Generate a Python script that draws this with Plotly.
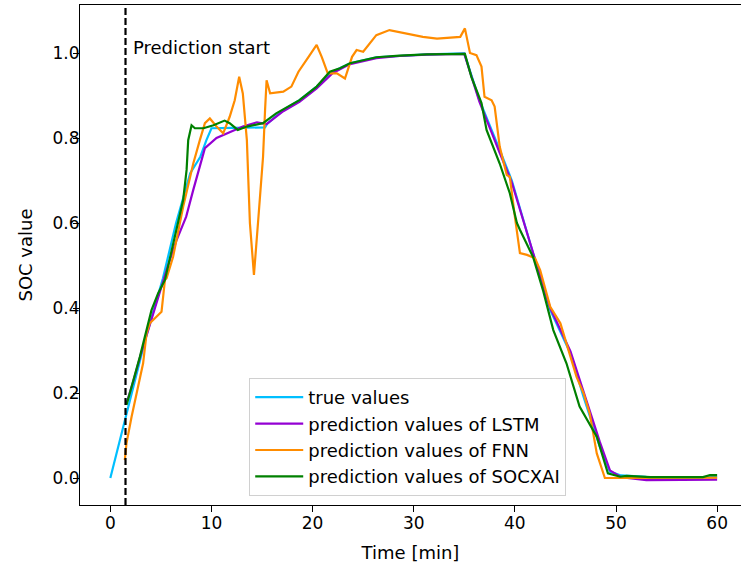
import plotly.graph_objects as go

# ---- data ----
t_true = [0, 1.5, 3.5, 5.2, 6.5, 7.9, 8.9, 9.5, 10.0, 12.0, 15.3, 15.5, 17.1, 18.7, 20.4, 22.0, 23.7,
          26.3, 28.6, 31.3, 35.0, 36.5, 38.5, 39.7, 41.8, 43.5, 45.5, 46.8, 48.4, 49.4, 50.5, 53, 56, 60]
y_true = [0, 0.14, 0.33, 0.47, 0.6, 0.717, 0.756, 0.795, 0.823, 0.824, 0.825, 0.833, 0.866, 0.889, 0.921,
          0.956, 0.976, 0.99, 0.994, 0.997, 0.999, 0.889, 0.772, 0.70, 0.529, 0.395, 0.293, 0.19, 0.074,
          0.015, 0.006, 0.003, 0.002, 0.002]

t_lstm = [1.6, 2.3, 3.0, 4.0, 4.9, 5.7, 6.55, 7.5, 8.2, 8.8, 9.35, 10.5, 11.5, 13.1, 14.5, 15.45, 17.1,
          18.7, 20.4, 22.0, 23.7, 26.3, 28.6, 31.3, 35.0, 36.5, 38.5, 39.7, 41.8, 43.5, 45.5, 46.8, 48.4,
          49.4, 50.5, 53, 56, 60]
y_lstm = [0.176, 0.23, 0.29, 0.37, 0.442, 0.5, 0.56, 0.615, 0.678, 0.73, 0.776, 0.8, 0.811, 0.827, 0.837,
          0.833, 0.863, 0.885, 0.917, 0.953, 0.974, 0.988, 0.993, 0.996, 0.998, 0.885, 0.765, 0.695, 0.53,
          0.40, 0.298, 0.2, 0.085, 0.018, 0.002, -0.005, -0.005, -0.004]

t_fnn = [1.43, 1.6, 2.1, 2.75, 3.24, 3.58, 3.9, 5.06, 5.4, 5.56, 6.2, 7.2, 8.2, 8.85, 9.35, 9.84, 10.5,
         11.16, 11.8, 12.3, 12.74, 13.1, 13.5, 13.8, 14.2, 14.6, 15.1, 15.3, 15.45, 15.8, 17.1, 17.9, 18.6,
         19.6, 20.4, 20.9, 21.5, 22.4, 23.2, 23.9, 24.35, 25.0, 25.7, 26.3, 27.6, 29.3, 30.9, 32.3, 34.6,
         35.06, 35.56, 36.2, 36.7, 37.0, 37.7, 38.0, 38.5, 39.2, 39.5, 40.0, 40.5, 41.2, 42.0, 42.5, 43.5,
         44.5, 45.5, 46.1, 46.8, 47.4, 48.1, 48.9, 50, 55, 60]
y_fnn = [0.042, 0.082, 0.144, 0.215, 0.27, 0.34, 0.364, 0.391, 0.466, 0.47, 0.52, 0.638, 0.74, 0.795,
         0.835, 0.846, 0.827, 0.811, 0.85, 0.889, 0.944, 0.905, 0.795, 0.6, 0.478, 0.6, 0.756, 0.866, 0.936,
         0.905, 0.909, 0.921, 0.956, 0.991, 1.019, 0.991, 0.952, 0.952, 0.94, 0.991, 1.007, 1.003, 1.023,
         1.042, 1.054, 1.046, 1.038, 1.034, 1.038, 1.058, 1.0, 0.995, 0.968, 0.897, 0.889, 0.874, 0.78,
         0.713, 0.709, 0.615, 0.529, 0.525, 0.517, 0.489, 0.403, 0.364, 0.285, 0.238, 0.199, 0.152, 0.058,
         0.0, 0.0, 0.0, 0.001]

t_xai = [1.6, 2.92, 4.07, 4.73, 5.4, 6.55, 7.2, 7.54, 7.7, 8.03, 8.36, 9.2, 10.2, 11.3, 11.8, 12.6, 13.5,
         15.1, 16.4, 18.7, 20.4, 21.7, 22.7, 23.7, 26.3, 28.6, 31.3, 35.06, 35.7, 36.7, 37.2, 38.5, 39.5,
         40.2, 40.5, 41.8, 42.8, 43.8, 45.1, 46.4, 48.1, 49.2, 50.4, 51.06, 53.4, 58.6, 59.3, 60]
y_xai = [0.172, 0.285, 0.395, 0.435, 0.466, 0.59, 0.654, 0.725, 0.795, 0.83, 0.823, 0.823, 0.83, 0.841,
         0.835, 0.819, 0.827, 0.835, 0.858, 0.889, 0.921, 0.956, 0.964, 0.976, 0.99, 0.994, 0.997, 0.998,
         0.944, 0.882, 0.819, 0.74, 0.67, 0.6, 0.584, 0.52, 0.44, 0.348, 0.27, 0.168, 0.097, 0.011, 0.003,
         0.005, 0.002, 0.002, 0.007, 0.007]

prediction_start = 1.5
x_ticks = [0, 10, 20, 30, 40, 50, 60]
y_ticks = [0.0, 0.2, 0.4, 0.6, 0.8, 1.0]

series = [
    ("true values", t_true, y_true, "#00bfff"),
    ("prediction values of LSTM", t_lstm, y_lstm, "#9400d3"),
    ("prediction values of FNN", t_fnn, y_fnn, "#ff8c00"),
    ("prediction values of SOCXAI", t_xai, y_xai, "#008000"),
]

FONT = "DejaVu Sans"
fig = go.Figure()
for i, (name, xs, ys, col) in enumerate(series):
    fig.add_trace(go.Scatter(x=xs, y=ys, mode="lines", name=name, legendgroup=f"g{i}",
                             line=dict(color=col, width=2.2)))

fig.add_shape(type="line", xref="x", yref="paper", x0=prediction_start, x1=prediction_start,
              y0=0, y1=1, line=dict(color="black", width=2.2, dash="7px,3px"))
fig.add_annotation(x=2.0, y=1.014, xref="x", yref="y", text="Prediction start", showarrow=False,
                   xanchor="left", yanchor="middle", font=dict(family=FONT, size=18, color="black"))

fig.update_layout(
    width=741, height=563,
    margin=dict(l=80, r=0, t=5, b=58, autoexpand=False),
    plot_bgcolor="white", paper_bgcolor="white",
    font=dict(family=FONT, size=17, color="black"),
    showlegend=True,
    legend=dict(x=0.256, y=0.254, xanchor="left", yanchor="top", bgcolor="rgba(255,255,255,0.8)",
                bordercolor="#d0d0d0", borderwidth=1, font=dict(family=FONT, size=18),
                traceorder="grouped", tracegroupgap=0, itemwidth=48),
)
fig.update_xaxes(range=[-3, 62.36], tickvals=x_ticks, ticks="outside", ticklen=6, tickwidth=1.2,
                 tickcolor="black", showline=True, linecolor="black", linewidth=1.2, mirror=True,
                 showgrid=False, zeroline=False, automargin=False, ticklabelstandoff=-4,
                 title=dict(text="Time [min]", font=dict(family=FONT, size=18)))
fig.update_yaxes(range=[-0.0635, 1.113], tickvals=y_ticks, tickformat=".1f", ticks="outside", ticklen=6,
                 tickwidth=1.2, tickcolor="black", showline=True, linecolor="black", linewidth=1.2,
                 mirror=False, showgrid=False, zeroline=False, automargin=False, ticklabelstandoff=-10,
                 title=dict(text="SOC value", font=dict(family=FONT, size=18)))

fig.write_html("out.html", post_script="document.body.style.margin='0';",
               config={"displayModeBar": False})
